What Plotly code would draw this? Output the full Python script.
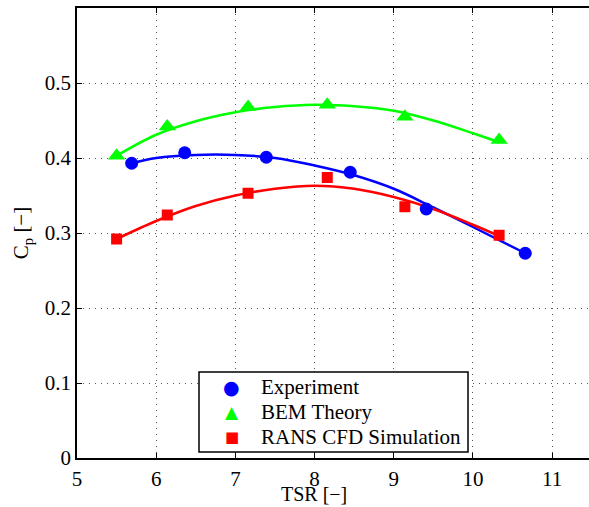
import plotly.graph_objects as go

# Measured data points
exp_tsr = [5.69, 6.36, 7.39, 8.45, 9.41, 10.66]
exp_cp = [0.393, 0.407, 0.401, 0.381, 0.332, 0.273]

bem_tsr = [5.50, 6.14, 7.16, 8.16, 9.14, 10.33]
bem_cp = [0.403, 0.442, 0.468, 0.471, 0.455, 0.424]

cfd_tsr = [5.50, 6.14, 7.16, 8.16, 9.14, 10.33]
cfd_cp = [0.292, 0.324, 0.353, 0.374, 0.335, 0.297]

# Trend curves (sampled)
exp_fit_tsr = [5.69, 6.0, 6.5, 7.0, 7.5, 8.0, 8.5, 9.0, 9.5, 10.0, 10.66]
exp_fit_cp = [0.393, 0.400, 0.404, 0.404, 0.400, 0.390, 0.377, 0.359, 0.334, 0.308, 0.273]

bem_fit_tsr = [5.50, 6.0, 6.5, 7.0, 7.5, 8.0, 8.5, 9.0, 9.5, 10.0, 10.33]
bem_fit_cp = [0.403, 0.431, 0.449, 0.461, 0.468, 0.471, 0.469, 0.463, 0.450, 0.433, 0.421]

cfd_fit_tsr = [5.50, 6.0, 6.5, 7.0, 7.5, 8.0, 8.5, 9.0, 9.5, 10.0, 10.33]
cfd_fit_cp = [0.292, 0.316, 0.336, 0.350, 0.359, 0.363, 0.359, 0.348, 0.332, 0.311, 0.296]

series_names = ["Experiment", "BEM Theory", "RANS CFD Simulation"]

x_ticks = [5, 6, 7, 8, 9, 10, 11]
y_ticks = [0, 0.1, 0.2, 0.3, 0.4, 0.5]
y_ticktext = ["0", "0.1", "0.2", "0.3", "0.4", "0.5"]

BLUE = "#0000ff"
GREEN = "#00ff00"
RED = "#ff0000"
FONT = "Liberation Serif"
FS = 21

fig = go.Figure()

# fitted trend lines
for fx, fy, col in [(exp_fit_tsr, exp_fit_cp, BLUE),
                    (bem_fit_tsr, bem_fit_cp, GREEN),
                    (cfd_fit_tsr, cfd_fit_cp, RED)]:
    fig.add_trace(go.Scatter(x=fx, y=fy, mode="lines", showlegend=False,
                             line=dict(color=col, width=2.5, shape="spline", smoothing=1.0),
                             hoverinfo="skip"))

# measured / computed points
fig.add_trace(go.Scatter(x=exp_tsr, y=exp_cp, mode="markers", name=series_names[0],
                         showlegend=False,
                         marker=dict(symbol="circle", size=13, color=BLUE)))
fig.add_trace(go.Scatter(x=bem_tsr, y=bem_cp, mode="markers", name=series_names[1],
                         showlegend=False,
                         marker=dict(symbol="triangle-up", size=15, color=GREEN)))
fig.add_trace(go.Scatter(x=cfd_tsr, y=cfd_cp, mode="markers", name=series_names[2],
                         showlegend=False,
                         marker=dict(symbol="square", size=11, color=RED)))

axis_common = dict(
    showline=True, linecolor="black", linewidth=1.5,
    ticks="inside", ticklen=5, tickcolor="black", tickwidth=1,
    showgrid=True, gridcolor="#555555", gridwidth=1, griddash="1px,5px",
    zeroline=False, automargin=False,
    tickfont=dict(family=FONT, size=FS, color="black"),
)

# boxed key in the lower middle of the axes (paper coordinates)
box_x0, box_x1 = 0.2383, 0.7637
box_y0, box_y1 = 0.0133, 0.1911
key_sym_x = 0.3027
key_txt_x = 0.3555
key_rows = [0.1578, 0.1022, 0.0467]
key_glyphs = [("●", BLUE, 19), ("▲", GREEN, 17), ("■", RED, 15)]

shapes = [dict(type="rect", xref="paper", yref="paper",
               x0=box_x0, x1=box_x1, y0=box_y0, y1=box_y1,
               line=dict(color="black", width=1.5), fillcolor="white", layer="above")]
annotations = []
for name, (glyph, col, gsize), ry in zip(series_names, key_glyphs, key_rows):
    annotations.append(dict(xref="paper", yref="paper", x=key_sym_x, y=ry,
                            text=glyph, showarrow=False, xanchor="center", yanchor="middle",
                            font=dict(family="DejaVu Sans", size=gsize, color=col)))
    annotations.append(dict(xref="paper", yref="paper", x=key_txt_x, y=ry,
                            text=name, showarrow=False, xanchor="left", yanchor="middle",
                            font=dict(family=FONT, size=FS, color="black")))

# x-axis title, set just below the tick labels
annotations.append(dict(xref="paper", yref="paper", x=0.463, y=-0.081,
                        text="TSR [−]", showarrow=False, xanchor="center", yanchor="middle",
                        font=dict(family=FONT, size=20, color="black")))

fig.update_layout(
    width=589, height=507,
    margin=dict(l=77, r=0, t=8, b=49),
    paper_bgcolor="white", plot_bgcolor="white",
    font=dict(family=FONT, size=FS, color="black"),
    xaxis=dict(range=[5, 11.465], tickvals=x_ticks, mirror="ticks",
               ticklabelstandoff=1,
               **axis_common),
    yaxis=dict(range=[0, 0.6], tickvals=y_ticks, ticktext=y_ticktext,
               mirror=False,
               title=dict(text="C<sub>p</sub> [−]", font=dict(family=FONT, size=FS), standoff=10),
               **axis_common),
    shapes=shapes,
    annotations=annotations,
    showlegend=False,
)

fig.write_html("out.html")
